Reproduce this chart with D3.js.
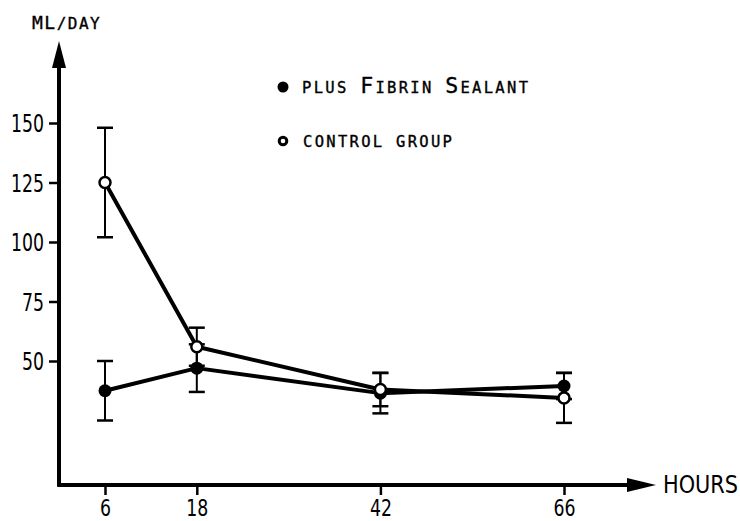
<!DOCTYPE html>
<html><head><meta charset="utf-8">
<script src="https://cdn.jsdelivr.net/npm/d3@7"></script>
<style>
body{margin:0;background:#fff;}
svg{display:block;}
.num{font-family:"DejaVu Sans Condensed","Liberation Sans Narrow","DejaVu Sans",sans-serif;font-size:24px;fill:#000;}
.lab{font-family:"DejaVu Sans Mono","Liberation Mono",monospace;fill:#000;stroke:#000;stroke-width:0.35px;}
</style></head>
<body><svg id="c" width="740" height="521"></svg>
<script>
const hours = [6, 18, 42, 66];
const fibrinMean = [37.5, 47, 36.5, 39.5];
const fibrinErr  = [12.5, 10, 8.5, 5.5];
const controlMean = [125, 56, 38, 34.5];
const controlErr  = [23, 8, 7, 10.5];
const yTicks = [50, 75, 100, 125, 150];
const xTicks = [6, 18, 42, 66];

const svg = d3.select("#c");
const x = d3.scaleLinear().domain([6, 66]).range([105, 564]);
const y = d3.scaleLinear().domain([50, 150]).range([361, 123]);
const axisX = 59, axisY = 485;

// axes lines
svg.append("line").attr("x1", axisX).attr("x2", axisX).attr("y1", axisY + 1.5).attr("y2", 66)
  .attr("stroke", "#000").attr("stroke-width", 4);
svg.append("path").attr("d", `M${axisX},41 L${axisX-7},68 L${axisX+7},68 Z`).attr("fill", "#000");
svg.append("line").attr("x1", axisX - 1.5).attr("x2", 630).attr("y1", axisY).attr("y2", axisY)
  .attr("stroke", "#000").attr("stroke-width", 4);
svg.append("path").attr("d", `M656,${axisY} L627,${axisY-7} L627,${axisY+7} Z`).attr("fill", "#000");

function narrow(sel, w) {
  sel.each(function() {
    const s = d3.select(this);
    s.attr("textLength", s.text().length * w).attr("lengthAdjust", "spacingAndGlyphs");
  });
}

// y ticks
const yAxis = d3.axisLeft(y).tickValues(yTicks).tickSize(10).tickPadding(5);
const gy = svg.append("g").attr("transform", `translate(${axisX},0)`).call(yAxis);
gy.select(".domain").remove();
gy.selectAll(".tick line").attr("stroke", "#000").attr("stroke-width", 2.5);
gy.selectAll(".tick text").attr("class", "num").attr("font-size", null).attr("font-family", null).attr("dy", "0.36em").call(narrow, 11);

// x ticks
const xAxis = d3.axisBottom(x).tickValues(xTicks).tickSize(10).tickPadding(5);
const gx = svg.append("g").attr("transform", `translate(0,${axisY})`).call(xAxis);
gx.select(".domain").remove();
gx.selectAll(".tick line").attr("stroke", "#000").attr("stroke-width", 2.5);
gx.selectAll(".tick text").attr("class", "num").attr("font-size", null).attr("font-family", null)
  .attr("dy", "0.71em").style("font-size", "23px").call(narrow, 11);

svg.append("text").attr("class", "num").attr("x", 663).attr("y", 493).text("HOURS")
  .attr("textLength", 75).attr("lengthAdjust", "spacingAndGlyphs");

// y title
const t = svg.append("text").attr("class", "lab").attr("x", 32).attr("y", 29).attr("letter-spacing", 1.5);
t.append("tspan").attr("font-size", 18).text("ML");
t.append("tspan").attr("font-size", 16).text("/DAY");

function errorBars(mean, err) {
  const g = svg.append("g");
  hours.forEach((h, i) => {
    const cx = x(h), top = y(mean[i] + err[i]), bot = y(mean[i] - err[i]);
    g.append("line").attr("x1", cx).attr("x2", cx).attr("y1", top).attr("y2", bot).attr("stroke", "#000").attr("stroke-width", 2);
    [top, bot].forEach(v => g.append("line").attr("x1", cx - 8).attr("x2", cx + 8).attr("y1", v).attr("y2", v).attr("stroke", "#000").attr("stroke-width", 2.5));
  });
}
function lineAndMarkers(mean, filled) {
  const line = d3.line().x((d, i) => x(hours[i])).y(d => y(d));
  svg.append("path").datum(mean).attr("d", line).attr("fill", "none").attr("stroke", "#000").attr("stroke-width", 4).attr("stroke-linejoin", "round");
  svg.selectAll(null).data(mean).enter().append("circle")
    .attr("cx", (d, i) => x(hours[i])).attr("cy", d => y(d))
    .attr("r", filled ? 6.5 : 5.5)
    .attr("fill", filled ? "#000" : "#fff").attr("stroke", "#000").attr("stroke-width", filled ? 0 : 2.5);
}
errorBars(fibrinMean, fibrinErr);
errorBars(controlMean, controlErr);
lineAndMarkers(fibrinMean, true);
lineAndMarkers(controlMean, false);

// legend
svg.append("circle").attr("cx", 283).attr("cy", 87).attr("r", 5.5).attr("fill", "#000");
svg.append("circle").attr("cx", 283).attr("cy", 141).attr("r", 3.8).attr("fill", "#fff").attr("stroke", "#000").attr("stroke-width", 3);
const l1 = svg.append("text").attr("class", "lab").attr("x", 302).attr("y", 93).attr("letter-spacing", 2.3);
[["PLUS ", 15.5], ["F", 21.5], ["IBRIN ", 15.5], ["S", 21.5], ["EALANT", 15.5]].forEach(([s, f]) => l1.append("tspan").attr("font-size", f).text(s));
svg.append("text").attr("class", "lab").attr("x", 303).attr("y", 147).attr("font-size", 15.5).attr("letter-spacing", 2.3).text("CONTROL GROUP");
</script></body></html>
